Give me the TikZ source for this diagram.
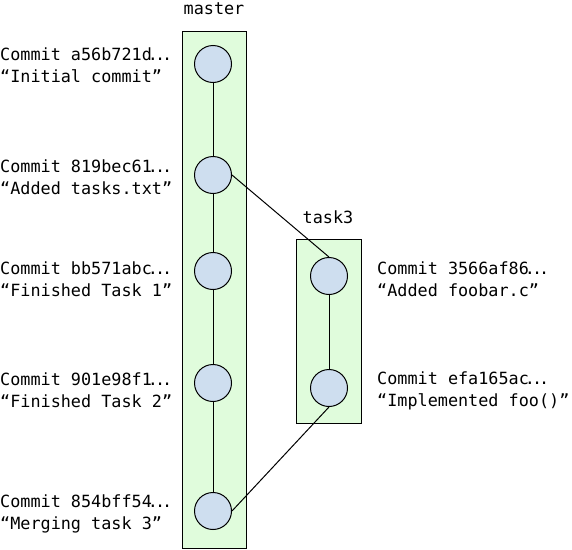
\documentclass[tikz,border=0pt]{standalone}
\usepackage{fontspec}
\setmonofont{DejaVu Sans Mono}
\newcommand\elld{\kern-4pt.\kern-3pt.\kern-3pt.}
\begin{document}
\begin{tikzpicture}[x=1pt,y=-1pt,
  branchbox/.style={draw=black, fill=boxgreen, line width=1pt, inner sep=0pt, rectangle},
  commit/.style={draw=black, fill=circblue, line width=1pt, circle, minimum size=37pt, inner sep=0pt},
  lbl/.style={font=\ttfamily\fontsize{16.8}{22}\selectfont, align=left, inner sep=0pt},
  edge/.style={line width=1pt, draw=black}]
\definecolor{boxgreen}{HTML}{E0FCDC}
\definecolor{circblue}{HTML}{CEDEEF}
\useasboundingbox (0,0) rectangle (572,549);
% branch boxes
\node[branchbox, minimum width=64pt, minimum height=517pt] (mbox) at (214,289.5) {};
\node[branchbox, minimum width=65pt, minimum height=184pt] (tbox) at (328.5,331) {};
% branch labels
\node[lbl, anchor=center] (mlabel) at (214,9) {master};
\node[lbl, anchor=center] (tlabel) at (328,217) {task3};
% commits
\node[commit] (m1) at (213,64) {};
\node[commit] (m2) at (213,175) {};
\node[commit] (m3) at (213,271) {};
\node[commit] (m4) at (213,383) {};
\node[commit] (m5) at (213,511) {};
\node[commit] (t1) at (329,276) {};
\node[commit] (t2) at (329,388) {};
% connectors
\draw[edge] (m1) -- (m2);
\draw[edge] (m2) -- (m3);
\draw[edge] (m3) -- (m4);
\draw[edge] (m4) -- (m5);
\draw[edge] (t1) -- (t2);
\draw[edge] (m2.east) -- (t1.north);
\draw[edge] (t2.south) -- (m5.east);
% commit labels
\node[lbl, anchor=west] (l1) at (0,65) {Commit a56b721d\elld\\“Initial commit”};
\node[lbl, anchor=west] (l2) at (0,177) {Commit 819bec61\elld\\“Added tasks.txt”};
\node[lbl, anchor=west] (l3) at (0,279) {Commit bb571abc\elld\\“Finished Task 1”};
\node[lbl, anchor=west] (l4) at (0,390) {Commit 901e98f1\elld\\“Finished Task 2”};
\node[lbl, anchor=west] (l5) at (0,514) {Commit 854bff54\elld\\“Merging task 3”};
\node[lbl, anchor=west] (r1) at (377,279) {Commit 3566af86\elld\\“Added foobar.c”};
\node[lbl, anchor=west] (r2) at (377,391) {Commit efa165ac\elld\\“Implemented foo()”};
\end{tikzpicture}
\end{document}
